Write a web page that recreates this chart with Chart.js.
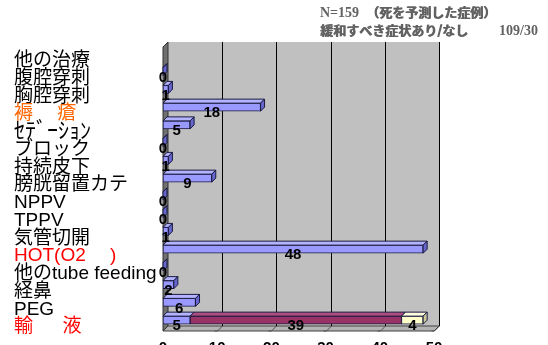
<!DOCTYPE html>
<html>
<head>
<meta charset="utf-8">
<script src="https://cdn.jsdelivr.net/npm/chart.js@4.4.0/dist/chart.umd.min.js"></script>
<style>
html,body{margin:0;padding:0;background:#fff;overflow:hidden}
</style>
</head>
<body>
<canvas id="c" width="548" height="345"></canvas>
<script>
////////////////////// DATA //////////////////////
var categories = ["他の治療","腹腔穿刺","胸腔穿刺","褥　 瘡","ｾﾃﾞｰｼｮﾝ","ブロック","持続皮下","膀胱留置カテ",
	"NPPV","TPPV","気管切開","HOT(O2　 )","他のtube feeding","経鼻","PEG","輸　  液"];
var labelColors = ["#000","#000","#000","#FF6600","#000","#000","#000","#000",
	"#000","#000","#000","#FF0000","#000","#000","#000","#FF0000"];
var blueValues   = [null,0,1,18,5,0,1,9,0,0,1,48,0,2,6,5];
var maroonValues = [null,null,null,null,null,null,null,null,null,null,null,null,null,null,null,39];
var creamValues  = [null,null,null,null,null,null,null,null,null,null,null,null,null,null,null,4];
var xTicks = [0,10,20,30,40,50];
var titleLine1 = ["N=159","（死を予測した症例）"];
var titleLine2 = ["緩和すべき症状あり/なし","109/30"];

var D = 5;   // depth of the walls
var BD = 4;  // depth of the bars

function poly(ctx, pts, fill, stroke)
{
	ctx.beginPath();
	ctx.moveTo(pts[0][0], pts[0][1]);
	for (var i = 1; i < pts.length; i++) ctx.lineTo(pts[i][0], pts[i][1]);
	ctx.closePath();
	if (fill) { ctx.fillStyle = fill; ctx.fill(); }
	if (stroke) { ctx.strokeStyle = stroke; ctx.lineWidth = 1; ctx.stroke(); }
}

// gray walls + gridlines behind the bars
var walls = {
	id: 'walls',
	beforeDatasetsDraw: function(chart)
	{
		var ctx = chart.ctx, a = chart.chartArea, xs = chart.scales.x;
		var L = a.left, R = a.right, T = a.top + 2, B = a.bottom + 2;
		ctx.save();
		ctx.fillStyle = '#C0C0C0';
		ctx.fillRect(L + D, T - D, R - L, B - T);
		poly(ctx, [[L,B],[L+D,B-D],[R+D,B-D],[R,B]], '#B4B4B4', '#404040');
		poly(ctx, [[L,T],[L+D,T-D],[L+D,B-D],[L,B]], '#707070', '#303030');
		ctx.lineWidth = 1;
		xTicks.forEach(function(v)
		{
			if (v === 0) return;
			var px = Math.round(xs.getPixelForValue(v)) + 0.5;
			ctx.strokeStyle = '#000';
			ctx.beginPath();
			ctx.moveTo(px + D, T - D);
			ctx.lineTo(px + D, B - D);
			ctx.stroke();
			ctx.strokeStyle = '#505050';
			ctx.beginPath();
			ctx.moveTo(px + D, B - D);
			ctx.lineTo(px, B);
			ctx.lineTo(px - 3, B);
			ctx.stroke();
		});
		ctx.restore();
	}
};

// top and side faces of the bars
var bars3d = {
	id: 'bars3d',
	afterDatasetsDraw: function(chart)
	{
		var ctx = chart.ctx;
		ctx.save();
		for (var i = 0; i < categories.length; i++)
		{
			var last = -1;
			chart.data.datasets.forEach(function(ds, k){ if (ds.data[i] !== null) last = k; });
			chart.data.datasets.forEach(function(ds, k)
			{
				if (ds.data[i] === null) return;
				var p = chart.getDatasetMeta(k).data[i].getProps(['x','y','base','height'], true);
				var x0 = p.base, x1 = p.x, yt = p.y - p.height/2, yb = p.y + p.height/2;
				poly(ctx, [[x0,yt],[x0+BD,yt-BD],[x1+BD,yt-BD],[x1,yt]], ds.topColor, '#1a1a40');
				if (k === last)
					poly(ctx, [[x1,yt],[x1+BD,yt-BD],[x1+BD,yb-BD],[x1,yb]], ds.sideColor, '#1a1a40');
			});
		}
		ctx.restore();
	}
};

// bold look for CJK text (draw twice)
function boldText(ctx, s, x, y)
{
	ctx.fillText(s, x, y);
	ctx.fillText(s, x + 0.7, y);
}

// value labels + title
var labels = {
	id: 'labels',
	afterDraw: function(chart)
	{
		var ctx = chart.ctx;
		ctx.save();
		ctx.font = 'bold 15px "Liberation Sans", Arial, sans-serif';
		ctx.fillStyle = '#000';
		ctx.textAlign = 'center';
		ctx.textBaseline = 'middle';
		chart.data.datasets.forEach(function(ds, k)
		{
			chart.getDatasetMeta(k).data.forEach(function(el, i)
			{
				if (ds.data[i] === null) return;
				var p = el.getProps(['x','y','base'], true);
				ctx.fillText(String(ds.data[i]), (p.x + p.base)/2, p.y + 6);
			});
		});

		ctx.fillStyle = '#626262';
		ctx.textAlign = 'left';
		ctx.textBaseline = 'alphabetic';
		ctx.font = 'bold 14px "Liberation Serif", serif';
		ctx.fillText(titleLine1[0], 320, 17);
		ctx.font = 'bold 13px "Noto Sans CJK JP", sans-serif';
		boldText(ctx, titleLine1[1], 366, 17);
		boldText(ctx, titleLine2[0], 320, 35);
		ctx.textAlign = 'right';
		ctx.font = 'bold 14px "Liberation Serif", serif';
		ctx.fillText(titleLine2[1], 538, 35);
		ctx.restore();
	}
};

var chart = new Chart("c",
{
	type: "bar",
	data:
	{
		labels: categories,
		datasets:
		[
			{ data: blueValues, backgroundColor: "#9999FF", topColor: "#B3B3FF", sideColor: "#6666CC" },
			{ data: maroonValues, backgroundColor: "#993366", topColor: "#B04D80", sideColor: "#6E2449" },
			{ data: creamValues, backgroundColor: "#FFFFCC", topColor: "#FFFFE0", sideColor: "#CCCC99" }
		].map(function(ds)
		{
			ds.barThickness = 8;
			ds.borderWidth = 1;
			ds.borderColor = "#1a1a40";
			ds.borderSkipped = false;
			return ds;
		})
	},
	options:
	{
		indexAxis: 'y',
		responsive: false,
		animation: false,
		devicePixelRatio: 1,
		layout: { padding: { left: 14, right: 114, top: 45, bottom: 0 } },
		plugins: { legend: { display: false }, tooltip: { enabled: false } },
		scales:
		{
			x:
			{
				stacked: true,
				min: 0, max: 50,
				afterBuildTicks: function(s){ s.ticks = xTicks.map(function(v){ return { value: v }; }); },
				grid: { display: false, drawTicks: false },
				border: { display: false },
				ticks: { color: '#000', padding: 10, font: { family: '"Liberation Sans", Arial', size: 15, weight: 'bold' } },
				afterFit: function(s){ s.height = 16; }
			},
			y:
			{
				stacked: true,
				grid: { display: false },
				border: { display: false },
				ticks:
				{
					autoSkip: false,
					crossAlign: 'far',
					padding: 0,
					labelOffset: 7,
					color: function(c){ return labelColors[c.index]; },
					font: function(c)
					{
						return { family: '"Liberation Sans", "Noto Sans CJK JP", sans-serif', size: c.index === 4 ? 22 : 19 };
					}
				},
				afterFit: function(s){ s.width = 149; }
			}
		}
	},
	plugins: [walls, bars3d, labels]
});
</script>
</body>
</html>
